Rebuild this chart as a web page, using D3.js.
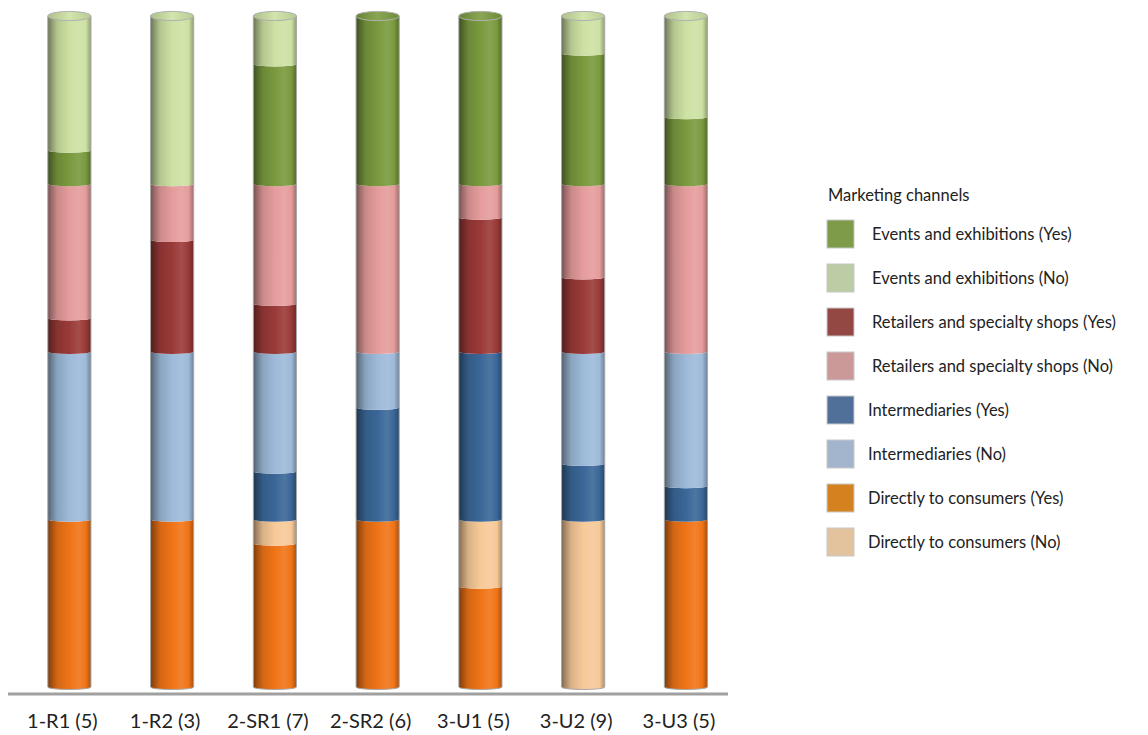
<!DOCTYPE html>
<html><head><meta charset="utf-8">
<script src="https://cdn.jsdelivr.net/npm/d3@7"></script>
<style>html,body{margin:0;padding:0;background:#fff;}svg{display:block;}</style>
</head><body>
<svg id="chart" width="1148" height="735"></svg>
<script>
// ---- data ----
const categories = ["1-R1 (5)", "1-R2 (3)", "2-SR1 (7)", "2-SR2 (6)", "3-U1 (5)", "3-U2 (9)", "3-U3 (5)"];
const directYes  = [1, 1, 0.857, 1, 0.6, 0, 1];
const directNo   = [0, 0, 0.143, 0, 0.4, 1, 0];
const intermYes  = [0, 0, 0.286, 0.667, 1, 0.333, 0.2];
const intermNo   = [1, 1, 0.714, 0.333, 0, 0.667, 0.8];
const retailYes  = [0.2, 0.667, 0.286, 0, 0.8, 0.444, 0];
const retailNo   = [0.8, 0.333, 0.714, 1, 0.2, 0.556, 1];
const eventsYes  = [0.2, 0, 0.714, 1, 1, 0.778, 0.4];
const eventsNo   = [0.8, 1, 0.286, 0, 0, 0.222, 0.6];
const seriesNames = ["Directly to consumers (Yes)", "Directly to consumers (No)", "Intermediaries (Yes)", "Intermediaries (No)",
  "Retailers and specialty shops (Yes)", "Retailers and specialty shops (No)", "Events and exhibitions (Yes)", "Events and exhibitions (No)"];
const seriesValues = [directYes, directNo, intermYes, intermNo, retailYes, retailNo, eventsYes, eventsNo];
const barColors = ["#f07417", "#f7c998", "#3a6798", "#9dbad9", "#9a3a38", "#e59c9c", "#7a9a3e", "#cde1a3"];
const legendColors = ["#d4821f", "#e3c29e", "#50709a", "#a3b5cc", "#944844", "#cc9999", "#7d9b49", "#bccca4"];
const legendTitle = "Marketing channels";

// ---- build table ----
const rows = categories.map((c, i) => {
  const r = {cat: c};
  seriesNames.forEach((s, k) => r[s] = seriesValues[k][i]);
  return r;
});
const stacked = d3.stack().keys(seriesNames)(rows);

const svg = d3.select("#chart");
const x = d3.scaleBand().domain(categories).range([18, 737.3]).paddingInner(0.58).paddingOuter(0.29);
const y = d3.scaleLinear().domain([0, 4]).range([687, 16]);
const bw = x.bandwidth();
const ry = 2.5, capRy = 4.6;

// gradients
const defs = svg.append("defs");
function mix(a, b, t) { return d3.interpolateRgb(a, b)(t); }
barColors.forEach((c, k) => {
  const g = defs.append("linearGradient").attr("id", "g" + k).attr("x1", "0%").attr("x2", "100%").attr("y1", "0%").attr("y2", "0%");
  const stops = [[0, mix(c, "#000", 0.5)], [0.07, mix(c, "#000", 0.35)], [0.22, mix(c, "#000", 0.12)], [0.5, c],
                 [0.72, mix(c, "#fff", 0.1)], [0.88, c], [1, mix(c, "#000", 0.3)]];
  stops.forEach(s => g.append("stop").attr("offset", s[0]).attr("stop-color", s[1]));
  const gc = defs.append("linearGradient").attr("id", "c" + k).attr("x1", "0%").attr("x2", "100%");
  [[0, mix(c, "#000", 0.15)], [0.5, mix(c, "#fff", 0.12)], [1, mix(c, "#000", 0.1)]].forEach(s => gc.append("stop").attr("offset", s[0]).attr("stop-color", s[1]));
});

function segPath(x0, x1, yTop, yBot) {
  const rx = (x1 - x0) / 2;
  return `M${x0},${yTop} A${rx},${ry} 0 0 0 ${x1},${yTop} L${x1},${yBot} A${rx},${ry} 0 0 1 ${x0},${yBot} Z`;
}

// segments
stacked.forEach((layer, k) => {
  svg.append("g").selectAll("path").data(layer.filter(d => d[1] - d[0] > 1e-6)).join("path")
    .attr("d", d => {
      const x0 = x(d.data.cat), x1 = x0 + bw;
      return segPath(x0, x1, y(d[1]), y(d[0]));
    })
    .attr("fill", `url(#g${k})`);
});

// outlines and caps
categories.forEach((c, i) => {
  const x0 = x(c), x1 = x0 + bw, rx = bw / 2;
  const top = y(4), bot = y(0);
  svg.append("path")
    .attr("d", `M${x0},${top} L${x0},${bot} A${rx},${ry} 0 0 0 ${x1},${bot} L${x1},${top}`)
    .attr("fill", "none").attr("stroke", "#a8a8a8").attr("stroke-width", 1);
  // top segment index
  let topK = 0;
  stacked.forEach((layer, k) => { if (layer[i][1] - layer[i][0] > 1e-6) topK = k; });
  svg.append("ellipse").attr("cx", x0 + rx).attr("cy", top).attr("rx", rx).attr("ry", capRy)
    .attr("fill", `url(#c${topK})`).attr("stroke", "#b0b0b0").attr("stroke-width", 1);
});

// axis line
svg.append("line").attr("x1", 8).attr("x2", 728).attr("y1", 694).attr("y2", 694)
  .attr("stroke", "#a0a0a0").attr("stroke-width", 3);

// category labels
svg.append("g").selectAll("text").data(categories).join("text")
  .attr("x", d => x(d) + bw / 2 - 7).attr("y", 728)
  .attr("text-anchor", "middle").attr("font-family", "Lato, 'Open Sans', sans-serif")
  .attr("font-size", 20).attr("fill", "#222").text(d => d);

// legend
const lg = svg.append("g");
lg.append("text").attr("x", 828).attr("y", 201).attr("font-family", "Lato, 'Open Sans', sans-serif")
  .attr("font-size", 16.5).attr("fill", "#222").text(legendTitle);
const legendOrder = [6, 7, 4, 5, 2, 3, 0, 1];
legendOrder.forEach((k, j) => {
  const cy = 234 + j * 44;
  lg.append("rect").attr("x", 827).attr("y", cy - 14).attr("width", 27).attr("height", 28)
    .attr("fill", legendColors[k]).attr("stroke", "#c8c8c8").attr("stroke-width", 1);
  lg.append("text").attr("x", j < 4 ? 872 : 868).attr("y", cy + 6)
    .attr("font-family", "Lato, 'Open Sans', sans-serif").attr("font-size", 16.5).attr("fill", "#222")
    .text(seriesNames[k]);
});
</script>
</body></html>
